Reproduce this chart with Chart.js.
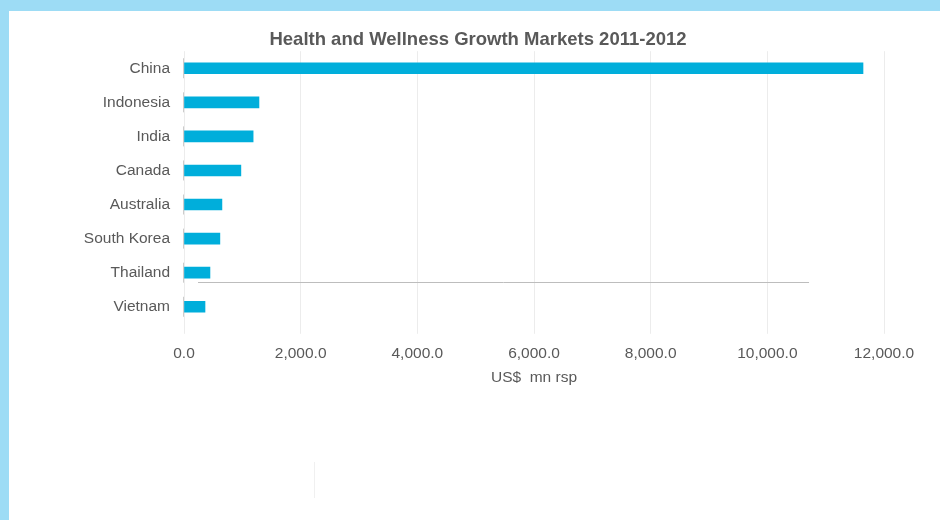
<!DOCTYPE html>
<html lang="en">
<head>
    <meta charset="UTF-8">
    <title>Health and Wellness Growth Markets 2011-2012</title>
    <script src="https://cdn.jsdelivr.net/npm/chart.js"></script>
    <style>
        /* moldura azul clara em volta do gráfico */
        body {
            margin: 0;
            width: 940px;
            height: 520px;
            background: #9ddcf5;
            overflow: hidden;
            font-family: "Liberation Sans", Arial, sans-serif;
        }

        .chart-container {
            position: absolute;
            left: 9px;
            top: 11px;
            width: 931px;
            height: 509px;
            background: white;
        }

        .faint-line {
            position: absolute;
            left: 305px;
            top: 451px;
            width: 1px;
            height: 36px;
            background: #f0f0f0;
        }
    </style>
</head>
<body>
<div class="chart-container">
    <canvas id="marketsChart" width="931" height="509"></canvas>
    <div class="faint-line"></div>
</div>

<script>
    // Dados
    const countries = ['China', 'Indonesia', 'India', 'Canada', 'Australia', 'South Korea', 'Thailand', 'Vietnam'];
    const growthValues = [11640, 1285, 1185, 975, 650, 615, 445, 360];
    const xTicks = [0, 2000, 4000, 6000, 8000, 10000, 12000];

    const textColor = '#595959';
    const barColor = '#00aedb';
    const fontSize = 15.5;

    // Pequenos traços verticais à esquerda de cada barra + linha solta entre Thailand e Vietnam
    const extrasPlugin = {
        id: 'extras',
        afterDatasetsDraw(chart) {
            const ctx = chart.ctx;
            const x = chart.scales.x;
            const y = chart.scales.y;
            ctx.save();
            ctx.strokeStyle = '#cccccc';
            ctx.lineWidth = 1;
            const x0 = Math.round(x.getPixelForValue(0)) - 0.5;
            countries.forEach((c, i) => {
                const py = y.getPixelForValue(i);
                ctx.beginPath();
                ctx.moveTo(x0, py - 10);
                ctx.lineTo(x0, py + 10);
                ctx.stroke();
            });
            // linha horizontal cinza
            const ly = Math.round((y.getPixelForValue(6) + y.getPixelForValue(7)) / 2 - 8) + 0.5;
            ctx.strokeStyle = '#bdbdbd';
            ctx.beginPath();
            ctx.moveTo(x.getPixelForValue(240), ly);
            ctx.lineTo(x.getPixelForValue(10715), ly);
            ctx.stroke();
            ctx.restore();
        }
    };

    const ctx = document.getElementById('marketsChart').getContext('2d');
    new Chart(ctx, {
        type: 'bar',
        data: {
            labels: countries,
            datasets: [{
                label: 'US$ mn rsp',
                data: growthValues,
                backgroundColor: barColor,
                borderWidth: 0,
                barThickness: 11
            }]
        },
        options: {
            indexAxis: 'y',
            responsive: false,
            animation: false,
            layout: {
                padding: { left: 63, right: 56, top: 0, bottom: 133 }
            },
            plugins: {
                legend: { display: false },
                tooltip: { enabled: false },
                title: {
                    display: true,
                    text: 'Health and Wellness Growth Markets 2011-2012',
                    color: textColor,
                    font: { family: 'Liberation Sans', size: 18.5, weight: 'bold' },
                    padding: { top: 18, bottom: 0 }
                }
            },
            scales: {
                x: {
                    min: 0,
                    max: 12000,
                    afterBuildTicks(scale) {
                        scale.ticks = xTicks.map(v => ({ value: v }));
                    },
                    grid: {
                        color: '#ececec',
                        tickColor: '#ececec',
                        tickLength: 10
                    },
                    border: { display: false },
                    ticks: {
                        color: textColor,
                        font: { family: 'Liberation Sans', size: fontSize },
                        padding: 11,
                        maxRotation: 0,
                        callback: v => v.toLocaleString('en-US', { minimumFractionDigits: 1, maximumFractionDigits: 1 })
                    },
                    title: {
                        display: true,
                        text: 'US$  mn rsp',
                        color: textColor,
                        font: { family: 'Liberation Sans', size: fontSize },
                        padding: { top: -6, bottom: 0 }
                    }
                },
                y: {
                    afterFit(scale) {
                        scale.width = 112;
                    },
                    grid: { display: false, drawTicks: false },
                    border: { display: false },
                    ticks: {
                        color: textColor,
                        font: { family: 'Liberation Sans', size: fontSize },
                        padding: 14
                    }
                }
            }
        },
        plugins: [extrasPlugin]
    });
</script>
</body>
</html>
